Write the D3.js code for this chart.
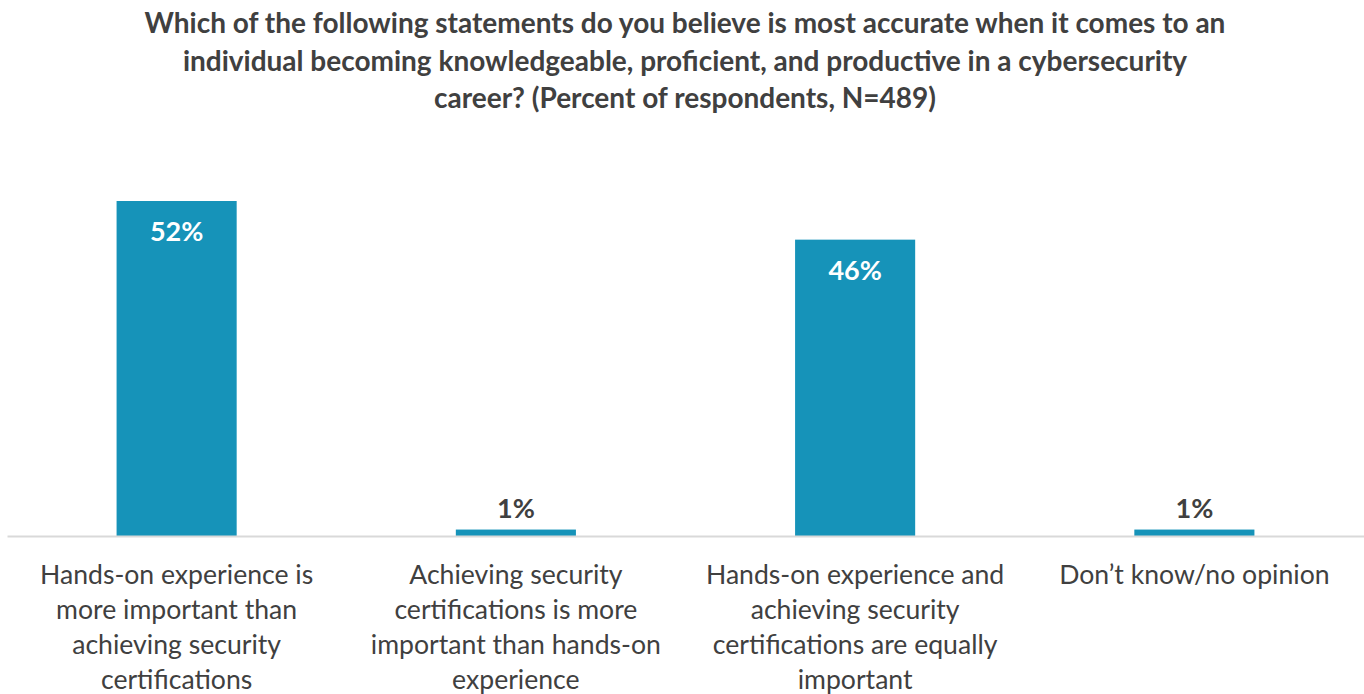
<!DOCTYPE html>
<html>
<head>
<meta charset="utf-8">
<script src="https://cdn.jsdelivr.net/npm/d3@7"></script>
<style>
  html, body { margin: 0; padding: 0; background: #ffffff; }
  svg { display: block; font-family: "Source Sans Pro", Lato, "Open Sans", sans-serif; }
</style>
</head>
<body>
<svg id="chart" width="1364" height="694"></svg>
<script>
// Survey answers and their share of respondents (percent)
const categories = [
  "Hands-on experience is more important than achieving security certifications",
  "Achieving security certifications is more important than hands-on experience",
  "Hands-on experience and achieving security certifications are equally important",
  "Don’t know/no opinion"
];
const values = [52, 1, 46, 1];

// Axis label lines for each category
const tickLines = [
  ["Hands-on experience is", "more important than", "achieving security", "certifications"],
  ["Achieving security", "certifications is more", "important than hands-on", "experience"],
  ["Hands-on experience and", "achieving security", "certifications are equally", "important"],
  ["Don’t know/no opinion"]
];

const titleLines = [
  "Which of the following statements do you believe is most accurate when it comes to an",
  "individual becoming knowledgeable, proficient, and productive in a cybersecurity",
  "career? (Percent of respondents, N=489)"
];

const W = 1364, H = 694;
const baseY = 536;
const textColor = "#404040";
const barColor = "#1693b9";

const svg = d3.select("#chart");

// Title
svg.append("text")
  .attr("x", 685)
  .attr("y", 33)
  .attr("text-anchor", "middle")
  .attr("font-size", 28)
  .attr("font-weight", "bold")
  .attr("fill", textColor)
  .selectAll("tspan")
  .data(titleLines)
  .join("tspan")
  .attr("x", 685)
  .attr("dy", (d, i) => i === 0 ? 0 : 37.5)
  .text(d => d);

const x = d3.scaleBand()
  .domain(categories)
  .range([7, W])
  .paddingInner(0.646)
  .paddingOuter(0.323);

const y = d3.scaleLinear()
  .domain([0, 52])
  .range([baseY, 201]);

// Bars
svg.append("g")
  .selectAll("rect")
  .data(values)
  .join("rect")
  .attr("x", (d, i) => x(categories[i]))
  .attr("width", x.bandwidth())
  .attr("y", d => y(d))
  .attr("height", d => baseY - y(d))
  .attr("fill", barColor);

// Baseline axis
const axis = svg.append("g")
  .attr("transform", `translate(0,${baseY})`)
  .call(d3.axisBottom(x).tickSize(0).tickFormat(""));
axis.select(".domain").attr("stroke", "#d9d9d9").attr("stroke-width", 2);

// Category labels
svg.append("g")
  .selectAll("text")
  .data(categories)
  .join("text")
  .attr("text-anchor", "middle")
  .attr("font-size", 26.6)
  .attr("fill", textColor)
  .each(function(d, i) {
    const cx = x(d) + x.bandwidth() / 2;
    d3.select(this).selectAll("tspan")
      .data(tickLines[i])
      .join("tspan")
      .attr("x", cx)
      .attr("y", (l, j) => 584 + j * 35)
      .text(l => l);
  });

// Value labels: inside tall bars, above short ones
svg.append("g")
  .selectAll("text")
  .data(values)
  .join("text")
  .attr("text-anchor", "middle")
  .attr("font-size", 27)
  .attr("font-weight", "bold")
  .attr("x", (d, i) => x(categories[i]) + x.bandwidth() / 2)
  .attr("y", d => d > 10 ? y(d) + 40 : y(d) - 12)
  .attr("fill", d => d > 10 ? "#ffffff" : textColor)
  .text(d => d + "%");
</script>
</body>
</html>
